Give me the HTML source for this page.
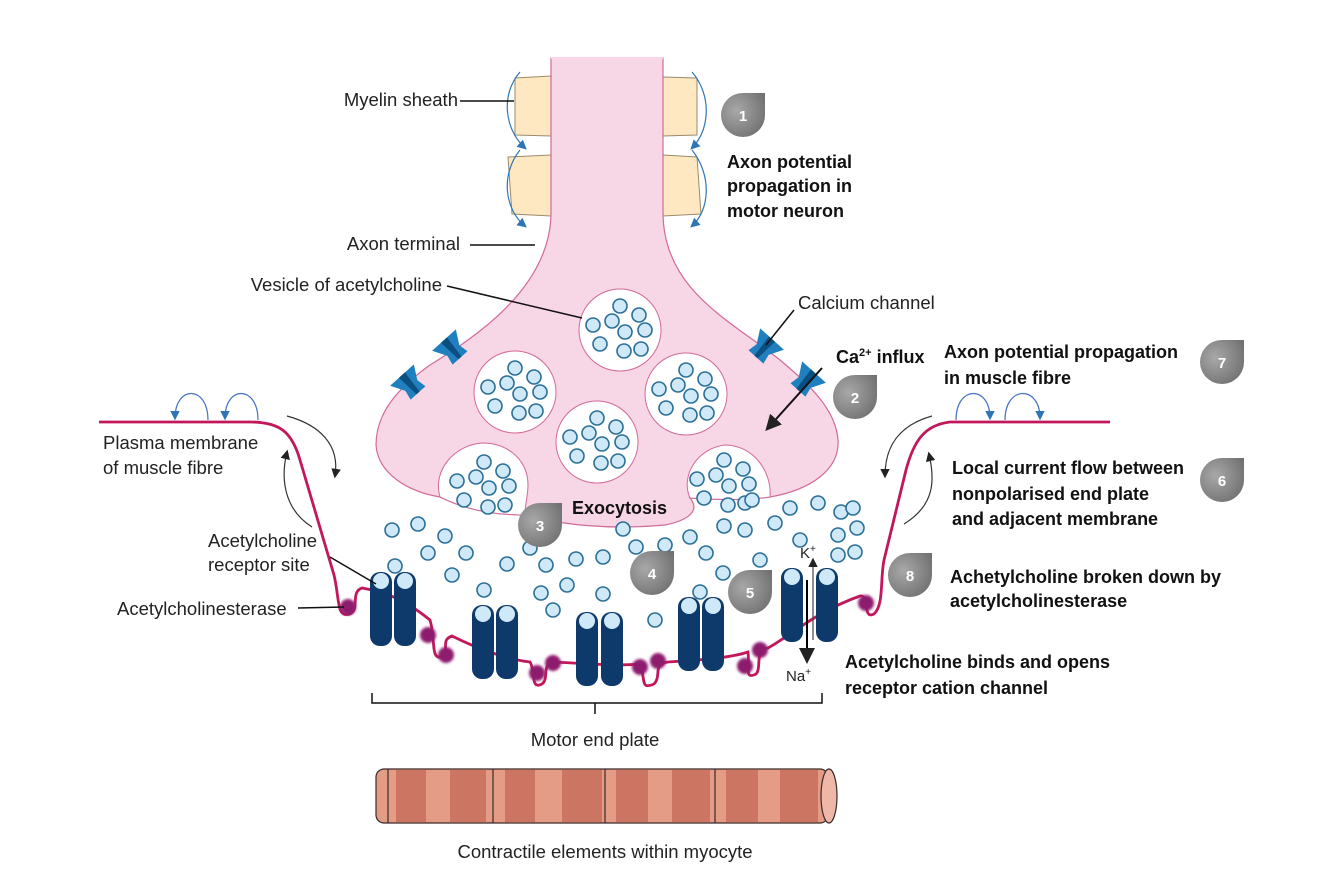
<!DOCTYPE html>
<html><head><meta charset="utf-8"><style>
html,body{margin:0;padding:0;background:#fff;}
svg{display:block;font-family:"Liberation Sans",sans-serif;}
.t{font-size:18.5px;fill:#222;}
.b{font-size:18px;font-weight:bold;fill:#111;}
.n{font-size:15px;font-weight:bold;fill:#fff;}
</style></head><body>
<svg width="1334" height="896" viewBox="0 0 1334 896" xmlns="http://www.w3.org/2000/svg">
<defs>
<radialGradient id="g" cx="35%" cy="40%" r="75%"><stop offset="0" stop-color="#a8a8a8"/><stop offset="1" stop-color="#6e6e6e"/></radialGradient>
<marker id="ab" markerWidth="8" markerHeight="8" refX="6" refY="4" orient="auto"><path d="M0,0 L8,4 L0,8Z" fill="#2e75b6"/></marker>
<marker id="ak" markerWidth="8" markerHeight="8" refX="6" refY="4" orient="auto"><path d="M0,0 L8,4 L0,8Z" fill="#222"/></marker>
<filter id="bl"><feGaussianBlur stdDeviation="1.2"/></filter>
<symbol id="ves" overflow="visible">
<g fill="#cfe9f8" stroke="#2a6f97" stroke-width="1.6">
<circle cx="0" cy="-24" r="7"/><circle cx="19" cy="-15" r="7"/><circle cx="-8" cy="-9" r="7"/><circle cx="-27" cy="-5" r="7"/><circle cx="5" cy="2" r="7"/><circle cx="25" cy="0" r="7"/><circle cx="-20" cy="14" r="7"/><circle cx="4" cy="21" r="7"/><circle cx="21" cy="19" r="7"/></g>
</symbol>
<symbol id="rec" overflow="visible">
<rect x="-11" y="0" width="22" height="74" rx="10" fill="#0d3a6b"/>
<circle cx="0" cy="9" r="8" fill="#cfe9f8"/>
</symbol>
<symbol id="ch" overflow="visible">
<path d="M-16,-12 L16,-12 L8,2 L10,12 L-10,12 L-8,2Z" fill="#1f7fbf"/><path d="M-4,-12 L4,-12 L2,12 L-2,12Z" fill="#0b4f80"/>
</symbol>
</defs>

<!-- myelin -->
<g fill="#fde8c2" stroke="#9a8a6a" stroke-width="1">
<path d="M515,78 L551,76 L551,136 L515,135Z"/>
<path d="M508,157 L551,155 L551,216 L512,214Z"/>
<path d="M663,77 L697,78 L697,135 L663,136Z"/>
<path d="M663,155 L697,157 L701,214 L663,216Z"/>
</g>
<g fill="none" stroke="#2e75b6" stroke-width="1.2" marker-end="url(#ab)">
<path d="M520,72 C500,95 505,130 525,148"/><path d="M520,150 C500,175 505,210 525,226"/>
<path d="M692,72 C712,95 710,130 692,148"/><path d="M692,150 C712,175 710,210 692,226"/>
</g>

<!-- axon terminal -->
<path d="M551,58 L551,212 C551,290 470,340 430,365 C395,390 376,415 376,445 C378,475 410,492 440,497 C470,512 500,515 528,515 C560,525 610,530 665,525 C690,520 700,510 690,498 C720,500 750,500 770,497 C810,490 840,470 838,440 C836,410 810,385 780,360 C730,320 663,290 663,212 L663,58 Z" fill="#f7d6e5" stroke="#d26a9a" stroke-width="1.2"/>
<line x1="551" y1="58" x2="663" y2="58" stroke="#f7d6e5" stroke-width="2"/>
<path d="M440,497 C432,470 455,445 482,443 C510,443 528,462 528,485 C528,500 522,512 528,515 C500,515 470,512 440,497Z" fill="#fff" stroke="#d26a9a" stroke-width="1"/>
<path d="M690,498 C680,475 698,448 725,445 C752,445 772,470 770,497 C750,500 720,500 690,498Z" fill="#fff" stroke="#d26a9a" stroke-width="1"/>
<use href="#ves" x="484" y="486"/><use href="#ves" x="724" y="484"/>
<g fill="#fff" stroke="#d26a9a" stroke-width="1">
<circle cx="620" cy="330" r="41"/><circle cx="515" cy="392" r="41"/><circle cx="686" cy="394" r="41"/><circle cx="597" cy="442" r="41"/></g>
<use href="#ves" x="620" y="330"/><use href="#ves" x="515" y="392"/><use href="#ves" x="686" y="394"/><use href="#ves" x="597" y="442"/>
<use href="#ch" x="452" y="349" transform="rotate(-42 452 349)"/>
<use href="#ch" x="410" y="384" transform="rotate(-42 410 384)"/>
<use href="#ch" x="764" y="348" transform="rotate(42 764 348)"/>
<use href="#ch" x="806" y="381" transform="rotate(42 806 381)"/>

<g fill="#cfe9f8" stroke="#2a6f97" stroke-width="1.6">
<circle cx="392" cy="530" r="7"/><circle cx="418" cy="524" r="7"/><circle cx="445" cy="536" r="7"/><circle cx="428" cy="553" r="7"/><circle cx="466" cy="553" r="7"/><circle cx="395" cy="566" r="7"/><circle cx="452" cy="575" r="7"/><circle cx="484" cy="590" r="7"/><circle cx="507" cy="564" r="7"/><circle cx="530" cy="548" r="7"/><circle cx="546" cy="565" r="7"/><circle cx="541" cy="593" r="7"/><circle cx="576" cy="559" r="7"/><circle cx="603" cy="557" r="7"/><circle cx="567" cy="585" r="7"/><circle cx="553" cy="610" r="7"/><circle cx="603" cy="594" r="7"/><circle cx="636" cy="547" r="7"/><circle cx="665" cy="545" r="7"/><circle cx="623" cy="529" r="7"/><circle cx="690" cy="537" r="7"/><circle cx="706" cy="553" r="7"/><circle cx="655" cy="620" r="7"/><circle cx="700" cy="592" r="7"/><circle cx="723" cy="573" r="7"/><circle cx="752" cy="500" r="7"/><circle cx="745" cy="530" r="7"/><circle cx="775" cy="523" r="7"/><circle cx="790" cy="508" r="7"/><circle cx="800" cy="540" r="7"/><circle cx="818" cy="503" r="7"/><circle cx="841" cy="512" r="7"/><circle cx="853" cy="508" r="7"/><circle cx="838" cy="535" r="7"/><circle cx="857" cy="528" r="7"/><circle cx="838" cy="555" r="7"/><circle cx="855" cy="552" r="7"/><circle cx="760" cy="560" r="7"/><circle cx="724" cy="526" r="7"/>
</g>

<path d="M99,422 L250,422 C280,422 292,432 300,460 L334,575 C340,600 336,618 350,614 C360,610 350,592 362,588 L372,590 C400,596 420,612 430,620 C436,640 430,660 442,657 C450,650 440,640 452,636 C480,650 510,660 530,662 C536,672 530,690 542,684 C550,678 540,664 555,662 C590,664 620,666 640,664 C646,680 640,690 654,684 C662,676 652,664 668,662 C700,660 730,658 748,652 C750,668 744,680 756,674 C762,668 754,650 768,648 C790,636 815,612 860,596 C870,594 862,620 874,614 C884,605 880,580 884,560 L906,470 C914,440 925,425 950,422 L1110,422" fill="none" stroke="#c2185b" stroke-width="2.8"/>
<use href="#rec" x="381" y="572"/><use href="#rec" x="405" y="572"/>
<use href="#rec" x="483" y="605"/><use href="#rec" x="507" y="605"/>
<use href="#rec" x="587" y="612"/><use href="#rec" x="612" y="612"/>
<use href="#rec" x="689" y="597"/><use href="#rec" x="713" y="597"/>
<use href="#rec" x="792" y="568"/><use href="#rec" x="827" y="568"/>
<g fill="#8e1a6e" filter="url(#bl)">
<circle cx="348" cy="607" r="8"/><circle cx="428" cy="635" r="8"/><circle cx="446" cy="655" r="8"/><circle cx="537" cy="673" r="8"/><circle cx="553" cy="663" r="8"/><circle cx="640" cy="667" r="8"/><circle cx="658" cy="661" r="8"/><circle cx="745" cy="666" r="8"/><circle cx="760" cy="650" r="8"/><circle cx="866" cy="603" r="8"/>
</g>
<line x1="813" y1="640" x2="813" y2="560" stroke="#444" stroke-width="1.2" marker-end="url(#ak)"/>
<line x1="807" y1="580" x2="807" y2="660" stroke="#000" stroke-width="2" marker-end="url(#ak)"/>

<g fill="none" stroke="#4472c4" stroke-width="1.2" marker-end="url(#ab)">
<path d="M208,420 C208,385 175,385 175,418"/><path d="M258,420 C258,385 225,385 225,418"/>
<path d="M956,420 C956,385 990,385 990,418"/><path d="M1005,420 C1005,385 1040,385 1040,418"/>
</g>
<g fill="none" stroke="#333" stroke-width="1.2" marker-end="url(#ak)">
<path d="M287,416 C320,425 340,445 335,476"/><path d="M312,527 C285,510 280,480 287,452"/>
<path d="M932,416 C900,425 885,445 885,476"/><path d="M904,524 C935,505 935,480 929,454"/>
</g>

<g stroke="#111" stroke-width="1.5" fill="none">
<line x1="460" y1="101" x2="514" y2="101"/><line x1="470" y1="245" x2="535" y2="245"/><line x1="447" y1="286" x2="582" y2="318"/>
<line x1="794" y1="310" x2="766" y2="345"/><line x1="298" y1="608" x2="344" y2="607"/><line x1="330" y1="557" x2="376" y2="584"/>
<line x1="822" y1="368" x2="768" y2="428" stroke-width="2" marker-end="url(#ak)"/>
<path d="M372,693 L372,703 L822,703 L822,693 M595,703 L595,714"/>
</g>

<g stroke="#3a2a2a" stroke-width="1.2">
<rect x="376" y="769" width="452" height="54" rx="8" fill="#e59c87"/>
<g stroke="none" fill="#cc7563">
<rect x="396" y="770" width="30" height="52"/><rect x="450" y="770" width="36" height="52"/>
<rect x="505" y="770" width="30" height="52"/><rect x="562" y="770" width="40" height="52"/>
<rect x="616" y="770" width="32" height="52"/><rect x="672" y="770" width="38" height="52"/>
<rect x="726" y="770" width="32" height="52"/><rect x="780" y="770" width="38" height="52"/></g>
<line x1="493" y1="769" x2="493" y2="823"/><line x1="605" y1="769" x2="605" y2="823"/><line x1="715" y1="769" x2="715" y2="823"/><line x1="388" y1="769" x2="388" y2="823"/>
<ellipse cx="829" cy="796" rx="8" ry="27" fill="#efb7a8"/>
</g>

<g fill="url(#g)">
<path d="M743,93 L765,93 L765,115 A22,22 0 1 1 743,93Z"/>
<path d="M855,375 L877,375 L877,397 A22,22 0 1 1 855,375Z"/>
<path d="M540,503 L562,503 L562,525 A22,22 0 1 1 540,503Z"/>
<path d="M652,551 L674,551 L674,573 A22,22 0 1 1 652,551Z"/>
<path d="M750,570 L772,570 L772,592 A22,22 0 1 1 750,570Z"/>
<path d="M1222,458 L1244,458 L1244,480 A22,22 0 1 1 1222,458Z"/>
<path d="M1222,340 L1244,340 L1244,362 A22,22 0 1 1 1222,340Z"/>
<path d="M910,553 L932,553 L932,575 A22,22 0 1 1 910,553Z"/>
</g>
<g class="n" text-anchor="middle">
<text x="743" y="121">1</text><text x="855" y="403">2</text><text x="540" y="531">3</text><text x="652" y="579">4</text><text x="750" y="598">5</text><text x="1222" y="486">6</text><text x="1222" y="368">7</text><text x="910" y="581">8</text></g>

<g class="t">
<text x="458" y="106" text-anchor="end">Myelin sheath</text>
<text x="460" y="250" text-anchor="end">Axon terminal</text>
<text x="442" y="291" text-anchor="end">Vesicle of acetylcholine</text>
<text x="798" y="309">Calcium channel</text>
<text x="103" y="449">Plasma membrane</text><text x="103" y="474">of muscle fibre</text>
<text x="208" y="547">Acetylcholine</text><text x="208" y="571">receptor site</text>
<text x="117" y="615">Acetylcholinesterase</text>
<text x="800" y="558" font-size="15">K<tspan font-size="10" dy="-6">+</tspan></text>
<text x="786" y="681" font-size="15">Na<tspan font-size="10" dy="-6">+</tspan></text>
<text x="595" y="746" text-anchor="middle">Motor end plate</text>
<text x="605" y="858" text-anchor="middle">Contractile elements within myocyte</text>
</g>
<g class="b">
<text x="727" y="168">Axon potential</text><text x="727" y="192">propagation in</text><text x="727" y="217">motor neuron</text>
<text x="836" y="363">Ca<tspan font-size="11" dy="-7">2+</tspan><tspan dy="7"> influx</tspan></text>
<text x="944" y="358">Axon potential propagation</text><text x="944" y="384">in muscle fibre</text>
<text x="572" y="514">Exocytosis</text>
<text x="952" y="474">Local current flow between</text><text x="952" y="500">nonpolarised end plate</text><text x="952" y="525">and adjacent membrane</text>
<text x="950" y="583">Achetylcholine broken down by</text><text x="950" y="607">acetylcholinesterase</text>
<text x="845" y="668">Acetylcholine binds and opens</text><text x="845" y="694">receptor cation channel</text>
</g>
</svg>
</body></html>
